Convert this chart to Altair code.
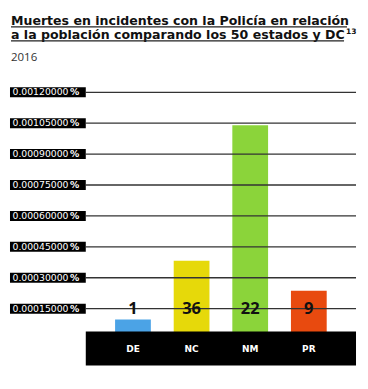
import altair as alt
import pandas as pd

# ---- data ----
states = ["DE", "NC", "NM", "PR"]
deaths = [1, 36, 22, 9]
rates = [0.000097, 0.000382, 0.00104, 0.000237]
bar_colors = ["#4BA3E6", "#E6D90A", "#8BD43A", "#E84A0F"]
tick_values = [0.00015, 0.0003, 0.00045, 0.0006, 0.00075, 0.0009, 0.00105, 0.0012]
tick_labels = ["0.00015000", "0.00030000", "0.00045000", "0.00060000",
               "0.00075000", "0.00090000", "0.00105000", "0.00120000"]
title_lines = ["Muertes en incidentes con la Policía en relación",
               "a la población comparando los 50 estados y DC"]
title_sup = "13"
subtitle = "2016"

FONT = "Open Sans"
TFONT = "DejaVu Sans"
W, H = 271, 248

bars_df = pd.DataFrame({"state": states, "deaths": deaths, "rate": rates})
ticks_df = pd.DataFrame({"value": tick_values, "label": tick_labels, "pct": ["%"] * len(tick_values)})

x_scale = alt.Scale(domain=states, paddingInner=0.39, paddingOuter=0.5)
y_scale = alt.Scale(domain=[0, 0.0012])

bars = alt.Chart(bars_df).mark_bar().encode(
    x=alt.X("state:N", scale=x_scale, sort=states,
            axis=alt.Axis(title=None, orient="bottom", domain=False, offset=9,
                          ticks=False, tickSize=0, labelPadding=0,
                          labelBaseline="middle", labelColor="white", labelFont=TFONT,
                          labelFontWeight="bold", labelFontSize=9, labelAngle=0,
                          zindex=2, grid=False)),
    y=alt.Y("rate:Q", scale=y_scale,
            axis=alt.Axis(title=None, values=tick_values, labels=False, ticks=False,
                          domain=False, grid=False)),
    color=alt.Color("state:N", scale=alt.Scale(domain=states, range=bar_colors), legend=None),
)

gridlines = alt.Chart(ticks_df).mark_rule(color="#333333", strokeWidth=1.3).encode(
    x=alt.value(0), x2=alt.value(W),
    y=alt.Y("value:Q", scale=y_scale, axis=None),
)

band = alt.Chart(pd.DataFrame({"a": [0]})).mark_rule(color="black", strokeWidth=34, strokeCap="butt").encode(
    x=alt.value(0), x2=alt.value(W), y=alt.value(257),
)

values = alt.Chart(bars_df).mark_text(
    font=FONT, fontWeight="bold", fontSize=16.5, color="#111", baseline="middle", align="center"
).encode(
    x=alt.X("state:N", scale=x_scale, sort=states),
    y=alt.datum(tick_values[0]),
    text="deaths:N",
)

label_boxes = alt.Chart(ticks_df).mark_rule(color="black", strokeWidth=10, strokeCap="butt").encode(
    x=alt.value(-76), x2=alt.value(0),
    y=alt.Y("value:Q", scale=y_scale, axis=None),
)
label_nums = alt.Chart(ticks_df).mark_text(
    font=TFONT, fontSize=9.3, color="white", align="left", baseline="middle"
).encode(
    x=alt.value(-73.5), y=alt.Y("value:Q", scale=y_scale, axis=None), text="label:N",
)
label_pct = alt.Chart(ticks_df).mark_text(
    font=TFONT, fontSize=9.3, fontWeight="bold", color="white", align="right", baseline="middle"
).encode(
    x=alt.value(-6.5), y=alt.Y("value:Q", scale=y_scale, axis=None), text="pct:N",
)

def txt(s, x, y, size, weight="normal", color="#111", font=TFONT):
    return alt.Chart(pd.DataFrame({"t": [s]})).mark_text(
        font=font, fontSize=size, fontWeight=weight, color=color,
        align="left", baseline="alphabetic"
    ).encode(x=alt.value(x), y=alt.value(y), text="t:N")

def uline(x1, x2, y):
    return alt.Chart(pd.DataFrame({"a": [0]})).mark_rule(color="#222", strokeWidth=1.2).encode(
        x=alt.value(x1), x2=alt.value(x2), y=alt.value(y))

t1 = txt(title_lines[0], -75, -67.5, 12.6, "bold")
t2 = txt(title_lines[1], -75, -53.5, 12.6, "bold")
t3 = txt(title_sup, 261, -58, 7.5, "bold")
t4 = txt(subtitle, -75, -31, 11.5, "normal", "#333", FONT)
u1 = uline(-75, 262, -65.5)
u2 = uline(-75, 259, -51.5)

chart = alt.layer(
    bars, gridlines, band, values, label_boxes, label_nums, label_pct,
    t1, t2, t3, t4, u1, u2
).properties(
    width=W, height=H,
    autosize=alt.AutoSizeParams(type="none"),
    padding={"left": 78, "top": 84, "right": 4, "bottom": 30},
).configure_view(stroke=None)

chart.save("out.html", embed_options={"renderer": "svg", "actions": False})
